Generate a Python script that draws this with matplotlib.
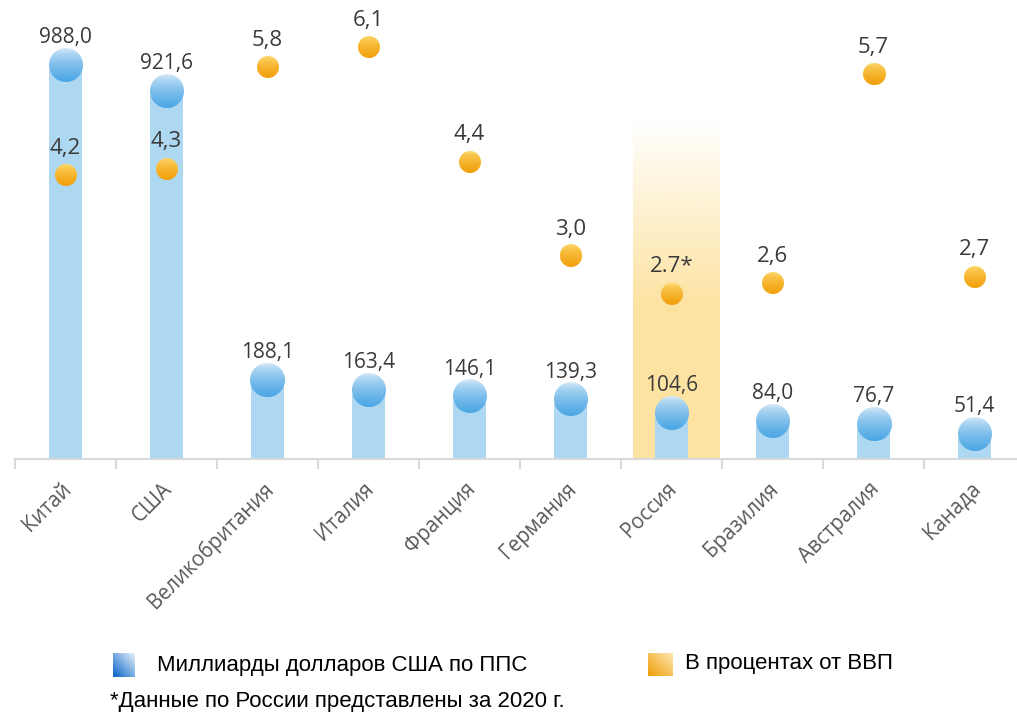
import numpy as np
import matplotlib
matplotlib.use("Agg")
import matplotlib.pyplot as plt
from matplotlib.colors import to_rgb
from matplotlib.transforms import ScaledTranslation

# data
countries = ["Китай", "США", "Великобритания", "Италия", "Франция",
             "Германия", "Россия", "Бразилия", "Австралия", "Канада"]
ppp_bln = [988.0, 921.6, 188.1, 163.4, 146.1, 139.3, 104.6, 84.0, 76.7, 51.4]
gdp_pct = [4.2, 4.3, 5.8, 6.1, 4.4, 3.0, 2.45, 2.6, 5.7, 2.7]
gdp_pct_labels = ["4,2", "4,3", "5,8", "6,1", "4,4", "3,0", "2.7*", "2,6", "5,7", "2,7"]
highlight = "Россия"

BAR = "#AED8F2"
TXT = "#3A3A3A"
TICK_TXT = "#595959"
AXIS = "#D9D9D9"

W, H, DPI = 1017, 717, 100
fig = plt.figure(figsize=(W / DPI, H / DPI), dpi=DPI)
# axis line at y=459 px, plot top at y=20 px, first boundary at x=15 px
ax = fig.add_axes([15 / W, (H - 459) / H, 1010 / W, 439 / H])
ax2 = ax.twinx()
x = np.arange(len(countries))
ax.set_xlim(-0.5, len(countries) - 0.5)
ax.set_ylim(0, 1114)
ax2.set_ylim(0, 6.5)
for a in (ax, ax2):
    a.set_autoscale_on(False)
    for s in a.spines.values():
        s.set_visible(False)
    a.set_yticks([])
ax.spines["bottom"].set_visible(True)
ax.spines["bottom"].set_color(AXIS)
ax.spines["bottom"].set_linewidth(1.5)


def dot(a, xv, yv, r, top, bot, dy=0, z=4):
    """circle with a vertical gradient, drawn as an antialiased RGBA image"""
    cx, cy = a.transData.transform((xv, yv))
    cy += dy
    n = int(2 * r + 4)
    yy, xx = np.mgrid[0:n, 0:n] + 0.5 - n / 2
    alpha = np.clip(r - np.hypot(xx, yy) + 0.5, 0, 1)
    t = np.clip((yy + r) / (2 * r), 0, 1) ** 0.6
    t = t[..., None]
    rgb = (1 - t) * np.array(to_rgb(top)) + t * np.array(to_rgb(bot))
    img = np.dstack([rgb, alpha])
    inv = a.transData.inverted()
    (x0, y0), (x1, y1) = inv.transform([(cx - n / 2, cy - n / 2), (cx + n / 2, cy + n / 2)])
    a.imshow(img, extent=(x0, x1, y0, y1), origin="upper", aspect="auto",
             interpolation="nearest", zorder=z)


# highlighted column for Russia (fades out towards the top)
hi = countries.index(highlight)
g = np.linspace(0, 1, 256)[:, None]           # 0 top .. 1 bottom
alpha = np.clip(g / 0.55, 0, 1)
band = np.zeros((256, 1, 4))
band[..., :3] = to_rgb("#FDE3A2")
band[..., 3] = alpha
ax.imshow(band, extent=(hi - 0.38, hi + 0.48, 0, 865), origin="upper",
          aspect="auto", zorder=0.5)

ax.bar(x, ppp_bln, width=0.32, color=BAR, zorder=1)

font = ["Open Sans", "DejaVu Sans"]
for i, v in enumerate(ppp_bln):
    dot(ax, i, v, 17, "#E4F0FA", "#4AA6E4", dy=5, z=3)
    ax.annotate(f"{v:.1f}".replace(".", ","), (i, v), xytext=(0, 32),
                textcoords="offset pixels", ha="center", va="center",
                zorder=6, family=font, size=15, color=TXT)

for i, v in enumerate(gdp_pct):
    dot(ax2, i, v, 11, "#FFDF78", "#F29F0A", z=4)
    ax2.annotate(gdp_pct_labels[i], (i, v), xytext=(0, 27),
                 textcoords="offset pixels", ha="center", va="center",
                 zorder=6, family=font, size=16, color=TXT)

# category boundaries as ticks, names at the centres
ax.set_xticks(np.arange(-0.5, len(countries)), minor=True)
ax.tick_params(axis="x", which="minor", length=7, width=1.5, color=AXIS)
ax.set_xticks(x)
ax.tick_params(axis="x", which="major", length=0, pad=14)
ax.set_xticklabels(countries, rotation=45, ha="right", rotation_mode="anchor",
                   family=font, fontsize=14.8, color=TICK_TXT)
off = ScaledTranslation(-5 / DPI, 0, fig.dpi_scale_trans)
for t in ax.get_xticklabels():
    t.set_transform(t.get_transform() + off)

# legend and footnote
leg_font = dict(family=["Liberation Sans Narrow", "Liberation Sans", "DejaVu Sans"],
                size=16, color="black", va="center")


def grad_square(x0, y0, w, h, dark, light):
    xx, yy = np.meshgrid(np.linspace(0, 1, w), np.linspace(0, 1, h))
    t = ((xx + yy) / 2)[..., None]          # image row 0 is the bottom edge
    rgb = (1 - t) * np.array(to_rgb(dark)) + t * np.array(to_rgb(light))
    fig.figimage(rgb, xo=x0, yo=H - y0 - h, origin="lower", zorder=3)


grad_square(113, 653, 22, 24, "#0A64C8", "#E6F1FB")
grad_square(648, 653, 25, 23, "#EE9E08", "#FFE6B0")
fig.text(157 / W, 1 - 665 / H, "Миллиарды долларов США по ППС", **leg_font)
fig.text(685 / W, 1 - 663 / H, "В процентах от ВВП", **leg_font)
fig.text(110 / W, 1 - 701 / H, "*Данные по России представлены за 2020 г.", **leg_font)

fig.savefig("out.png", dpi=DPI)
